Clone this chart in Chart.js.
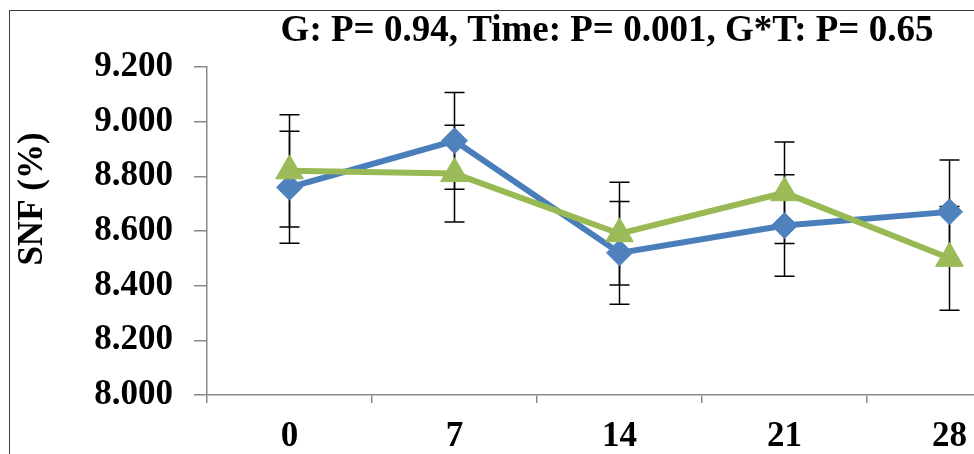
<!DOCTYPE html>
<html>
<head>
<meta charset="utf-8">
<title>SNF (%)</title>
<script src="https://cdn.jsdelivr.net/npm/chart.js@4.4.0/dist/chart.umd.js"></script>
<style>
  html, body { margin: 0; padding: 0; background: #fff; overflow: hidden; }
  #wrap { position: absolute; left: 0; top: 0; width: 1060px; height: 454px; }
  #frame {
    position: absolute; left: 9px; top: 10px; width: 1100px; height: 500px;
    border-left: 1px solid #3c3c3c; border-top: 1px solid #3c3c3c;
    pointer-events: none;
  }
</style>
</head>
<body>
<div id="wrap">
  <canvas id="chart"></canvas>
</div>
<div id="frame"></div>
<script>
// values
const days = ['0', '7', '14', '21', '28'];
const blueValues = [8.76, 8.93, 8.52, 8.62, 8.67];
const blueErrors = [0.205, 0.177, 0.188, 0.186, 0.19];
const greenValues = [8.82, 8.81, 8.59, 8.74, 8.50];
const greenErrors = [0.205, 0.177, 0.188, 0.186, 0.19];
const yTicks = [8.0, 8.2, 8.4, 8.6, 8.8, 9.0, 9.2];

const chartTitle = 'G: P= 0.94, Time: P= 0.001, G*T: P= 0.65';
const yTitle = 'SNF (%)';

const FONT = '"Liberation Serif", "Times New Roman", serif';
const AXIS_GRAY = '#8a8a8a';

// draws the +/- error bars through the chart's own scales
const errorBarPlugin = {
  id: 'errorBars',
  beforeDatasetsDraw(chart) {
    const ctx = chart.ctx;
    const x = chart.scales.x;
    const y = chart.scales.y;
    ctx.save();
    ctx.strokeStyle = '#000';
    ctx.lineWidth = 1.5;
    chart.data.datasets.forEach(ds => {
      ds.data.forEach((v, i) => {
        const px = x.getPixelForValue(i);
        const top = y.getPixelForValue(v + ds.errors[i]);
        const bot = y.getPixelForValue(v - ds.errors[i]);
        ctx.beginPath();
        ctx.moveTo(px, top);
        ctx.lineTo(px, bot);
        ctx.moveTo(px - 10, top);
        ctx.lineTo(px + 10, top);
        ctx.moveTo(px - 10, bot);
        ctx.lineTo(px + 10, bot);
        ctx.stroke();
      });
    });
    ctx.restore();
  }
};

// title on top and the rotated y title, placed like the original figure
const textPlugin = {
  id: 'figureText',
  afterDraw(chart) {
    const ctx = chart.ctx;
    ctx.save();
    ctx.fillStyle = '#000';
    ctx.font = 'bold 37px ' + FONT;
    ctx.textAlign = 'center';
    ctx.textBaseline = 'middle';
    ctx.fillText(chartTitle, 607, 31);

    ctx.font = 'bold 35px ' + FONT;
    ctx.translate(33, 199);
    ctx.rotate(-Math.PI / 2);
    ctx.fillText(yTitle, 0, 0);
    ctx.restore();
  }
};

new Chart(document.getElementById('chart'), {
  type: 'line',
  data: {
    labels: days,
    datasets: [
      {
        label: 'Green',
        data: greenValues,
        errors: greenErrors,
        borderColor: '#98B954',
        backgroundColor: '#9BBB59',
        borderWidth: 6,
        pointStyle: 'triangle',
        pointRadius: 16,
        pointBorderWidth: 1,
        pointBorderColor: '#9BBB59',
        tension: 0,
        order: 0
      },
      {
        label: 'Blue',
        data: blueValues,
        errors: blueErrors,
        borderColor: '#4A7EBB',
        backgroundColor: '#4F81BD',
        borderWidth: 6,
        pointStyle: 'rectRot',
        pointRadius: 13,
        pointBorderWidth: 1,
        pointBorderColor: '#4F81BD',
        tension: 0,
        order: 1
      }
    ]
  },
  options: {
    responsive: true,
    maintainAspectRatio: false,
    animation: false,
    layout: { padding: { left: 10, right: 28, top: 67, bottom: 0 } },
    plugins: {
      legend: { display: false },
      tooltip: { enabled: false }
    },
    scales: {
      x: {
        type: 'category',
        offset: true,
        grid: {
          display: true,
          offset: true,
          drawOnChartArea: false,
          tickLength: 8,
          color: AXIS_GRAY,
          lineWidth: 1.5
        },
        border: { color: AXIS_GRAY, width: 1.5 },
        ticks: {
          padding: 13,
          color: '#000',
          font: { family: FONT, size: 35, weight: 'bold' }
        },
        afterFit(scale) { scale.height = 59; }
      },
      y: {
        min: yTicks[0],
        max: yTicks[yTicks.length - 1],
        afterBuildTicks(scale) { scale.ticks = yTicks.map(v => ({ value: v })); },
        grid: {
          display: true,
          drawOnChartArea: false,
          tickLength: 13,
          color: AXIS_GRAY,
          lineWidth: 1.5
        },
        border: { color: AXIS_GRAY, width: 1.5 },
        ticks: {
          padding: 21,
          color: '#000',
          font: { family: FONT, size: 35, weight: 'bold' },
          callback: v => Number(v).toFixed(3)
        },
        afterFit(scale) { scale.width = 197; }
      }
    }
  },
  plugins: [errorBarPlugin, textPlugin]
});
</script>
</body>
</html>
